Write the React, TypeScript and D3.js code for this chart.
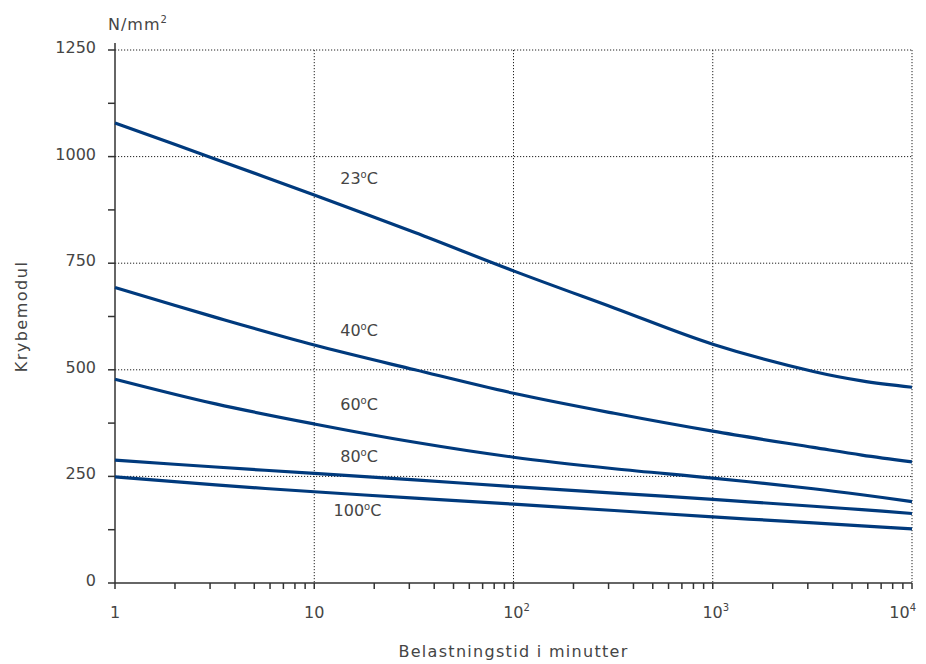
import React from "react";
import * as d3 from "d3";

// time in minutes (log axis)
const times = [1, 3.2, 10, 32, 100, 320, 1000, 3200, 5600, 10000];

const series23 = [1079, 994, 910, 822, 732, 645, 560, 496, 474, 459];
const series40 = [693, 623, 558, 500, 445, 398, 356, 318, 300, 284];
const series60 = [478, 420, 373, 330, 295, 268, 246, 221, 207, 191];
const series80 = [288, 272, 257, 242, 226, 211, 196, 180, 172, 163];
const series100 = [249, 230, 214, 199, 185, 170, 155, 141, 134, 127];

const curveLabels = ["23", "40", "60", "80", "100"];
// label anchor points as [time, value]
const labelPos: [number, number][] = [
  [13.5, 935],
  [13.5, 580],
  [13.5, 405],
  [13.5, 284],
  [12.5, 156],
];

const yTicks = [0, 250, 500, 750, 1000, 1250];
const yMinor = [125, 375, 625, 875, 1125];
const xDecades = [1, 10, 100, 1000, 10000];
const xExp = ["", "", "2", "3", "4"];

const W = 926;
const H = 664;
const left = 115;
const right = 912;
const top = 50;
const bottom = 583;

const font = "'DejaVu Sans', Verdana, sans-serif";
const textCol = "#454545";
const lineCol = "#003a7d";

export default function App() {
  const x = d3.scaleLog().domain([1, 10000]).range([left, right]);
  const y = d3.scaleLinear().domain([0, 1250]).range([bottom, top]);

  const line = d3
    .line<number>()
    .x((_, i) => x(times[i]))
    .y((d) => y(d))
    .curve(d3.curveCatmullRom.alpha(0.5));

  const allSeries = [series23, series40, series60, series80, series100];

  const minorX: number[] = [];
  for (let d = 1; d < 10000; d *= 10) {
    for (let k = 2; k <= 9; k++) minorX.push(d * k);
  }

  return (
    <svg
      width={W}
      height={H}
      style={{ position: "absolute", left: 0, top: 0 }}
      fontFamily={font}
    >
      <rect width={W} height={H} fill="#fff" />

      {/* grid */}
      <g stroke="#222" strokeWidth={1} strokeDasharray="1.2,1.8">
        {yTicks.slice(1).map((t) => (
          <line key={t} x1={left} x2={right} y1={y(t)} y2={y(t)} />
        ))}
        {xDecades.slice(1).map((t) => (
          <line key={t} x1={x(t)} x2={x(t)} y1={top} y2={bottom} />
        ))}
      </g>

      {/* axes */}
      <g stroke="#333" strokeWidth={1.5} fill="none">
        <line x1={left} x2={left} y1={43} y2={bottom} />
        <line x1={left} x2={right} y1={bottom} y2={bottom} />
        {[...yTicks, ...yMinor].map((t) => (
          <line key={"y" + t} x1={left - 7} x2={left} y1={y(t)} y2={y(t)} />
        ))}
        {[...xDecades, ...minorX].map((t) => (
          <line key={"x" + t} x1={x(t)} x2={x(t)} y1={bottom} y2={bottom + 6} />
        ))}
      </g>

      {/* y tick labels */}
      <g fill={textCol} fontSize={16} textAnchor="end">
        {yTicks.map((t) => (
          <text key={t} x={96} y={y(t) + 3}>
            {t}
          </text>
        ))}
      </g>

      {/* x tick labels */}
      <g fill={textCol} fontSize={16}>
        {xDecades.map((t, i) => {
          const last = i === xDecades.length - 1;
          return (
            <text
              key={t}
              x={last ? x(t) + 4 : x(t) + (xExp[i] ? 3 : 0)}
              y={618}
              textAnchor={last ? "end" : "middle"}
            >
              {i === 0 ? "1" : "10"}
              {xExp[i] && (
                <tspan fontSize={10} dy={-7}>
                  {xExp[i]}
                </tspan>
              )}
            </text>
          );
        })}
      </g>

      {/* curves */}
      <g fill="none" stroke={lineCol} strokeWidth={3.2} strokeLinecap="butt">
        {allSeries.map((s, i) => (
          <path key={i} d={line(s) || ""} />
        ))}
      </g>

      {/* curve labels */}
      <g fill={textCol} fontSize={16}>
        {curveLabels.map((l, i) => (
          <text key={l} x={x(labelPos[i][0])} y={y(labelPos[i][1])}>
            {l}
            <tspan fontSize={10} dy={-6}>
              o
            </tspan>
            <tspan dy={6}>C</tspan>
          </text>
        ))}
      </g>

      {/* titles */}
      <text x={108} y={30} fill={textCol} fontSize={16} letterSpacing={1}>
        N/mm
        <tspan fontSize={10} dy={-7}>
          2
        </tspan>
      </text>
      <text
        transform={`translate(27, ${(top + bottom) / 2}) rotate(-90)`}
        textAnchor="middle"
        fill={textCol}
        fontSize={16}
        letterSpacing={1.5}
      >
        Krybemodul
      </text>
      <text
        x={(left + right) / 2}
        y={657}
        textAnchor="middle"
        fill={textCol}
        fontSize={16}
        letterSpacing={1.3}
      >
        Belastningstid i minutter
      </text>
    </svg>
  );
}
